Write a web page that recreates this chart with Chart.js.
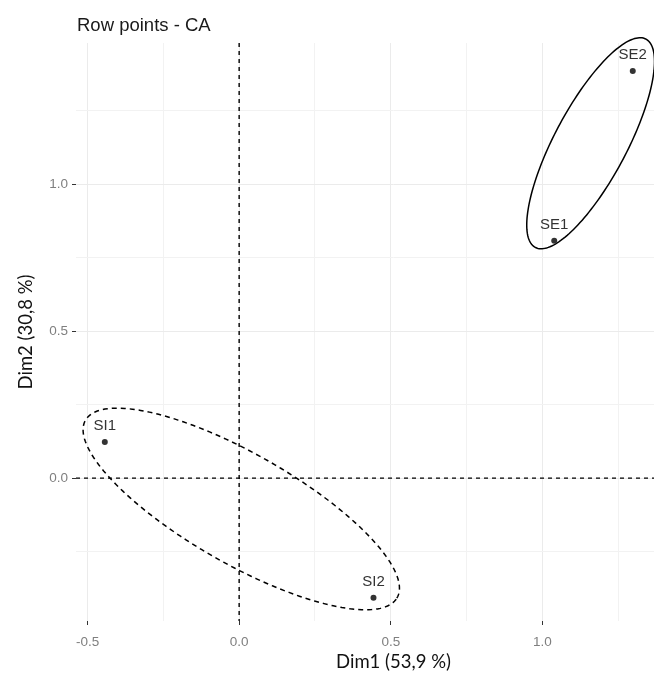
<!DOCTYPE html>
<html>
<head>
<meta charset="utf-8">
<script src="https://cdn.jsdelivr.net/npm/chart.js@4"></script>
<style>
  html, body { margin: 0; padding: 0; background: #fff; }
  #wrap { width: 654px; height: 673px; overflow: hidden; }
</style>
</head>
<body>
<div id="wrap"><canvas id="ca" width="714" height="673"></canvas></div>
<script>
// row points of the CA (Dim1 / Dim2)
const rowLabels = ['SE1', 'SE2', 'SI1', 'SI2'];
const dim1 = [1.039, 1.298, -0.443, 0.443];
const dim2 = [0.807, 1.385, 0.123, -0.407];

// confidence ellipses, in axis units
const ellipseGroups = ['SE', 'SI'];
const ellipseCx = [1.159, 0.007];
const ellipseCy = [1.139, -0.105];
const ellipseA = [0.3985, 0.596];
const ellipseB = [0.12, 0.186];
const ellipseAngle = [62.9, -30.6];

const xTickValues = [-0.5, -0.25, 0, 0.25, 0.5, 0.75, 1, 1.25, 1.5];
const yTickValues = [-0.25, 0, 0.25, 0.5, 0.75, 1, 1.25];

const sans = '"Liberation Sans", Arial, sans-serif';
const isMajor = v => Math.abs(v * 2 - Math.round(v * 2)) < 1e-6;

const extras = {
  id: 'extras',
  beforeDatasetsDraw(chart) {
    const ctx = chart.ctx, xs = chart.scales.x, ys = chart.scales.y, a = chart.chartArea;
    ctx.save();
    // zero lines
    ctx.strokeStyle = '#000';
    ctx.lineWidth = 1.4;
    ctx.setLineDash([4, 4]);
    ctx.beginPath();
    ctx.moveTo(xs.getPixelForValue(0), a.top);
    ctx.lineTo(xs.getPixelForValue(0), a.bottom);
    ctx.moveTo(a.left, ys.getPixelForValue(0));
    ctx.lineTo(a.right, ys.getPixelForValue(0));
    ctx.stroke();
    // ellipses
    ellipseGroups.forEach((g, i) => {
      const phi = ellipseAngle[i] * Math.PI / 180;
      ctx.setLineDash(g === 'SI' ? [5, 4] : []);
      ctx.lineWidth = 1.5;
      ctx.strokeStyle = '#000';
      ctx.beginPath();
      for (let k = 0; k <= 180; k++) {
        const t = k / 180 * Math.PI * 2;
        const u = ellipseA[i] * Math.cos(t), v = ellipseB[i] * Math.sin(t);
        const x = ellipseCx[i] + u * Math.cos(phi) - v * Math.sin(phi);
        const y = ellipseCy[i] + u * Math.sin(phi) + v * Math.cos(phi);
        const px = xs.getPixelForValue(x), py = ys.getPixelForValue(y);
        if (k === 0) ctx.moveTo(px, py); else ctx.lineTo(px, py);
      }
      ctx.closePath();
      ctx.stroke();
    });
    ctx.restore();
  },
  afterDatasetsDraw(chart) {
    const ctx = chart.ctx;
    ctx.save();
    // point labels
    ctx.font = '15px ' + sans;
    ctx.fillStyle = '#333';
    ctx.textAlign = 'center';
    ctx.textBaseline = 'middle';
    chart.getDatasetMeta(0).data.forEach((pt, i) => {
      ctx.fillText(rowLabels[i], pt.x, pt.y - 16);
    });
    // plot title
    ctx.font = '18.5px ' + sans;
    ctx.fillStyle = '#1a1a1a';
    ctx.textAlign = 'left';
    ctx.fillText('Row points - CA', chart.chartArea.left + 1, 26);
    ctx.restore();
  }
};

new Chart(document.getElementById('ca'), {
  type: 'scatter',
  data: {
    datasets: [{
      data: dim1.map((x, i) => ({ x: x, y: dim2[i] })),
      pointRadius: 3,
      pointHoverRadius: 3,
      pointBackgroundColor: '#333',
      pointBorderColor: '#333',
      pointBorderWidth: 0
    }]
  },
  options: {
    responsive: false,
    animation: false,
    layout: { padding: { top: 43, left: 0, right: 0, bottom: 0 } },
    plugins: { legend: { display: false }, tooltip: { enabled: false } },
    scales: {
      x: {
        type: 'linear',
        min: -0.538,
        max: 1.556,
        afterBuildTicks: s => { s.ticks = xTickValues.map(v => ({ value: v })); },
        afterFit: s => { s.height = 52; },
        border: { display: false },
        grid: {
          color: c => (c.tick && isMajor(c.tick.value)) ? '#ebebeb' : '#f2f2f2',
          tickColor: c => (c.tick && isMajor(c.tick.value)) ? '#333' : 'rgba(0,0,0,0)',
          tickLength: 4,
          lineWidth: 1
        },
        ticks: {
          autoSkip: false,
          maxRotation: 0,
          padding: 9,
          color: '#7f7f7f',
          font: { size: 13.5, family: sans },
          callback: v => isMajor(v) ? v.toFixed(1) : ''
        },
        title: {
          display: true,
          text: 'Dim1 (53,9 %)',
          color: '#111',
          font: { size: 18.5, family: 'Lato, sans-serif' },
          padding: { top: 0, bottom: 0 }
        }
      },
      y: {
        type: 'linear',
        min: -0.486,
        max: 1.48,
        afterBuildTicks: s => { s.ticks = yTickValues.map(v => ({ value: v })); },
        afterFit: s => { s.width = 76; },
        border: { display: false },
        grid: {
          color: c => (c.tick && isMajor(c.tick.value)) ? '#ebebeb' : '#f2f2f2',
          tickColor: c => (c.tick && isMajor(c.tick.value)) ? '#333' : 'rgba(0,0,0,0)',
          tickLength: 4,
          lineWidth: 1
        },
        ticks: {
          autoSkip: false,
          padding: 4,
          color: '#7f7f7f',
          font: { size: 13.5, family: sans },
          callback: v => isMajor(v) ? v.toFixed(1) : ''
        },
        title: {
          display: true,
          text: 'Dim2 (30,8 %)',
          color: '#111',
          font: { size: 18.5, family: 'Lato, sans-serif' },
          padding: { top: 15, bottom: 0 }
        }
      }
    }
  },
  plugins: [extras]
});
</script>
</body>
</html>
